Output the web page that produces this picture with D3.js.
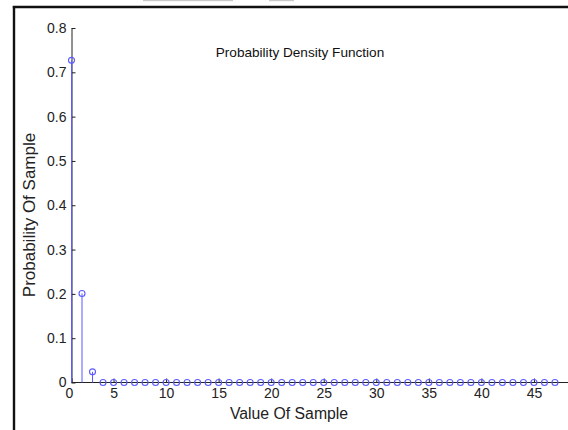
<!DOCTYPE html>
<html>
<head>
<meta charset="utf-8">
<script src="https://cdn.jsdelivr.net/npm/d3@7"></script>
<style>
  body { margin: 0; background: #fff; }
  svg { display: block; font-family: "Liberation Sans", Arial, sans-serif; }
</style>
</head>
<body>
<div class="container"></div>
<script>
/********** the Data **********/
let sampleValues = [1, 2, 3, 4, 5, 6, 7, 8, 9, 10, 11, 12, 13, 14, 15, 16,
  17, 18, 19, 20, 21, 22, 23, 24, 25, 26, 27, 28, 29, 30, 31, 32, 33, 34,
  35, 36, 37, 38, 39, 40, 41, 42, 43, 44, 45, 46, 47];

let probabilities = [0.727, 0.201, 0.024, 0, 0, 0, 0, 0, 0, 0, 0, 0, 0, 0, 0,
  0, 0, 0, 0, 0, 0, 0, 0, 0, 0, 0, 0, 0, 0, 0, 0, 0, 0, 0, 0, 0, 0, 0, 0,
  0, 0, 0, 0, 0, 0, 0, 0];

let xTickValues = [1, 5, 10, 15, 20, 25, 30, 35, 40, 45];
let xTickLabels = ["0", "5", "10", "15", "20", "25", "30", "35", "40", "45"];
let yTickValues = [0, 0.1, 0.2, 0.3, 0.4, 0.5, 0.6, 0.7, 0.8];
let yTickLabels = ["0", "0.1", "0.2", "0.3", "0.4", "0.5", "0.6", "0.7", "0.8"];

let stemData = sampleValues.map((v, i) => ({x: v, p: probabilities[i]}));

/********** drawChart **********/
function drawChart() {
  let width = 568, height = 430;
  let stemColor = "#5b5bff";
  let axisColor = "#222";

  let chart = d3.select(".container")
    .append("svg")
      .attr("class", "chart")
      .attr("width", width)
      .attr("height", height);

  // bits of the window around the figure
  chart.append("rect").attr("x", 143).attr("y", 0).attr("width", 90).attr("height", 1.2).attr("fill", "#c8c8c8");
  chart.append("rect").attr("x", 269).attr("y", 0).attr("width", 25).attr("height", 1.2).attr("fill", "#c8c8c8");
  chart.append("line")
    .attr("x1", 12.8).attr("x2", width).attr("y1", 7).attr("y2", 7)
    .attr("stroke", "#111").attr("stroke-width", 2.4);
  chart.append("line")
    .attr("x1", 14).attr("x2", 14).attr("y1", 6).attr("y2", height)
    .attr("stroke", "#111").attr("stroke-width", 2.4);

  /***** scales *****/
  let xScale = d3.scaleLinear()
    .domain([1, 48])
    .range([71.5, 71.5 + 47 * 10.51]);

  let yScale = d3.scaleLinear()
    .domain([0, 0.8])
    .range([382.5, 28]);

  /***** axes *****/
  let xAxis = d3.axisBottom(xScale)
    .tickValues(xTickValues)
    .tickFormat((d, i) => xTickLabels[i])
    .tickSizeInner(-4)
    .tickSizeOuter(0)
    .tickPadding(6);

  let yAxis = d3.axisLeft(yScale)
    .tickValues(yTickValues)
    .tickFormat((d, i) => yTickLabels[i])
    .tickSizeInner(-4)
    .tickSizeOuter(0)
    .tickPadding(5);

  let gx = chart.append("g")
    .attr("class", "x-axis")
    .attr("transform", `translate(0, ${yScale(0)})`)
    .call(xAxis);
  gx.select(".domain").attr("d", `M${xScale(1)},0H${width}`);

  let gy = chart.append("g")
    .attr("class", "y-axis")
    .attr("transform", `translate(${xScale(1)}, 0)`)
    .call(yAxis);

  [gx, gy].forEach(g => {
    g.selectAll("path, line").attr("stroke", axisColor);
    g.selectAll("text")
      .attr("fill", axisColor)
      .style("font-size", "14px")
      .style("font-family", "'Liberation Sans', Arial, sans-serif");
  });
  gx.select(".tick text").attr("dx", -2.5); // the "0" sits a bit left

  /***** stems *****/
  let stems = chart.append("g").attr("class", "stems");
  stems.selectAll("line")
    .data(stemData)
    .join("line")
      .attr("x1", d => xScale(d.x))
      .attr("x2", d => xScale(d.x))
      .attr("y1", yScale(0))
      .attr("y2", d => yScale(d.p))
      .attr("stroke", stemColor)
      .attr("stroke-width", 1);

  stems.selectAll("circle")
    .data(stemData)
    .join("circle")
      .attr("cx", d => xScale(d.x))
      .attr("cy", d => yScale(d.p))
      .attr("r", 3)
      .attr("fill", "none")
      .attr("stroke", stemColor)
      .attr("stroke-width", 1.1);

  /***** texts *****/
  chart.append("text")
    .attr("x", 300).attr("y", 56.5)
    .attr("text-anchor", "middle")
    .style("font-size", "13.6px")
    .attr("fill", "#111")
    .text("Probability Density Function");

  chart.append("text")
    .attr("x", 289).attr("y", 419)
    .attr("text-anchor", "middle")
    .style("font-size", "15.8px")
    .attr("fill", "#222")
    .text("Value Of Sample");

  chart.append("text")
    .attr("transform", "translate(35, 215) rotate(-90)")
    .attr("text-anchor", "middle")
    .style("font-size", "17px")
    .attr("fill", "#222")
    .text("Probability Of Sample");
}

drawChart();
</script>
</body>
</html>
